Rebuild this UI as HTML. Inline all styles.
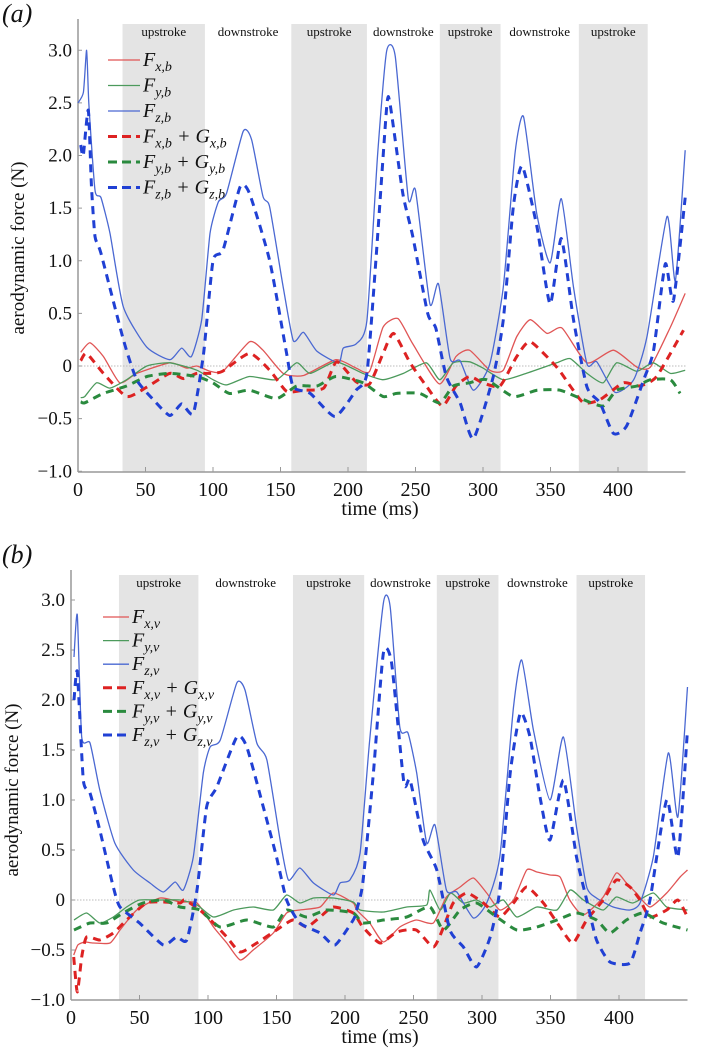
<!DOCTYPE html>
<html><head><meta charset="utf-8">
<style>
html,body{margin:0;padding:0;background:#fff;}
svg{display:block;font-family:"Liberation Serif",serif;}
</style></head>
<body>
<svg id="chart" width="706" height="1052" viewBox="0 0 706 1052" xmlns="http://www.w3.org/2000/svg"></svg>
<script>
// ---------- Panel (a) data (body frame) ----------
const bandsA = [[33,94],[158,214],[268,313],[371,422]];
const fzbT = [0,4,6.4,8,12.6,17,23.7,33.6,50.9,68,76.8,84,91.6,97.8,104,110,122.4,128.6,137,142,152,159.5,167,177,193,196.5,206,214,222,228.6,235,244.7,250,260.7,267,275.6,283,292.9,305,315,323.7,330,339.8,349.7,358,367,377,384.3,397.8,411.6,421.5,436.3,442.5,449.8];
const fzbV = [2.5,2.6,3.0,2.5,1.67,1.6,1.26,0.56,0.18,0.06,0.17,0.09,0.44,1.26,1.56,1.64,2.23,2.15,1.61,1.51,0.75,0.24,0.32,0.14,0.03,0.17,0.21,0.43,2.02,2.99,2.94,1.59,1.67,0.59,0.78,0.07,0.05,-0.23,0.02,0.75,2.02,2.37,1.45,0.98,1.59,0.75,0.02,0.04,-0.25,-0.13,0.28,1.42,0.81,2.05];
const fzgbT = [2,3.9,7.6,10,12.6,17,33.6,43.5,55.8,68,76.8,85.4,93,100,107.4,120,127,142,154.5,159.5,172,190.4,206,214,221,228.6,231,240.6,248,259,265,272.8,283,292.9,307.6,315,322.5,329,340,349.7,358,367,377,386.6,396.6,406.4,419,426.4,435,441,449.8];
const fzgbV = [2.1,2.0,2.43,1.7,1.23,1.07,0.25,-0.13,-0.32,-0.47,-0.36,-0.45,0.12,1.0,1.1,1.7,1.64,1.0,0.12,-0.2,-0.26,-0.48,-0.23,-0.07,1.07,2.45,2.5,1.64,1.23,0.5,0.36,-0.1,-0.35,-0.69,-0.1,0.44,1.52,1.9,1.32,0.59,1.21,0.44,-0.2,-0.35,-0.64,-0.57,-0.13,0.15,0.97,0.62,1.6];
const fxbT = [2,8.9,18.8,31,43.5,68,80.5,88,97.8,107.4,127,137,152,167,191,206,216,226,237,248,267.6,280,290,305,315,325,335,347.5,358.6,377,396.6,414,424,438.8,449.8];
const fxbV = [0.13,0.22,0.09,-0.16,-0.07,0.03,-0.02,0,-0.05,-0.05,0.23,0.15,-0.07,-0.09,0.06,-0.02,-0.05,0.37,0.45,0.21,-0.17,0.09,0.15,-0.04,-0.04,0.28,0.44,0.31,0.36,0.03,0.15,-0.01,-0.01,0.37,0.69];
const fxgbT = [2,6.4,18.8,36,51,68,78,88,97.8,107,127,142,154.5,167,182,191.6,206,216,226,233.8,246,258,270,280,290,300,312.6,325,335,354.6,364.6,374.5,386.6,404,416,428.6,448.5];
const fxgbV = [0.05,0.12,-0.07,-0.29,-0.2,-0.07,-0.12,-0.07,-0.07,-0.05,0.12,-0.04,-0.24,-0.23,-0.21,0.04,-0.15,-0.17,0.12,0.31,0.03,-0.19,-0.38,-0.19,-0.1,-0.16,-0.19,0.09,0.23,-0.01,-0.19,-0.35,-0.32,-0.16,-0.19,-0.1,0.34];
const fybT = [2,5,13.8,23.7,36,51,68,88,100,110,127,147,162,172,191,211,226,241,258,268,278,290,300,315,332,354.6,364.6,377,389,399,414,426,438.8,449.8];
const fybV = [-0.3,-0.29,-0.16,-0.21,-0.13,0,0.03,-0.04,-0.13,-0.18,-0.1,-0.13,0.03,-0.07,0.04,-0.07,-0.13,-0.07,0.03,-0.13,0.03,0.04,-0.02,-0.13,-0.07,0.03,0.07,-0.07,-0.16,0.03,-0.05,0.03,-0.07,-0.04];
const fygbT = [2,5,18.8,36,51,68,88,100,112,127,147,162,177,191,211,226,236,253,268,278,290,302.6,322.5,340,357,374.5,389,399,414,424,438.8,446];
const fygbV = [-0.34,-0.35,-0.26,-0.19,-0.1,-0.07,-0.1,-0.16,-0.26,-0.23,-0.31,-0.19,-0.19,-0.1,-0.16,-0.29,-0.26,-0.26,-0.35,-0.19,-0.16,-0.13,-0.29,-0.23,-0.23,-0.32,-0.38,-0.23,-0.19,-0.13,-0.13,-0.26];

// ---------- Panel (b) data (vertical frame) ----------
const bandsB = [[35,93],[162,214],[267,312],[369,419]];
const fzvT = [2.2,4.6,7.8,13.9,21,32,45.5,57.7,67.4,76,82,89.3,96.6,101.5,109,121,127,135.6,143,152.6,158.7,167,177,191.5,196.4,203.6,211,218,228,233,240,246,252.3,259.6,265.7,274,281.6,293.7,303.4,313,323,329,337.5,349.6,359.4,369,376.4,383.6,395.8,408,415.3,425,436,443,450];
const fzvV = [2.43,2.85,1.63,1.57,1.1,0.57,0.3,0.17,0.08,0.18,0.1,0.43,1.27,1.53,1.6,2.17,2.1,1.57,1.4,0.6,0.2,0.32,0.17,0.05,0.17,0.2,0.47,1.6,2.97,2.93,1.73,1.67,1.27,0.57,0.75,0.1,0.08,-0.18,-0.03,0.43,1.93,2.4,1.7,1.0,1.63,0.73,0.13,0.02,-0.07,-0.1,-0.03,0.43,1.47,0.83,2.13];
const fzgvT = [2.2,4.6,9,13.9,21,30.9,35.8,50,67.4,77,84.5,92,99,106.4,121,128.3,140.4,150,157.4,167,181.8,192.7,206,208.5,213,220.7,228,234,243,247.5,257,267,276.6,286.4,296,306,313,320.6,328,335,342.3,349.6,359.4,369,376.4,383.6,393.4,408,415.3,422.6,434.8,443,450];
const fzgvV = [2.0,2.28,1.2,1.07,0.7,0.13,-0.07,-0.23,-0.45,-0.37,-0.4,0.1,0.93,1.13,1.63,1.53,0.93,0.43,0,-0.23,-0.33,-0.45,-0.2,-0.1,0.17,1.27,2.47,2.37,1.17,1.2,0.6,0.3,-0.3,-0.47,-0.67,-0.37,0.1,1.27,1.87,1.63,1.03,0.6,1.2,0.43,0,-0.4,-0.62,-0.63,-0.33,0,1.0,0.43,1.7];
const fxvT = [2,5,10,16.3,28.5,35.8,48,65,79.6,92,104,113.7,123.5,133,147.7,157.4,167,181.8,191.5,206,208.5,218,228,240,252,264.5,274,284,293.7,303.4,313,323,332.6,340,349.6,357,364,374,388.5,398,405.4,412.6,422.6,434.8,444.6,450];
const fxvV = [-0.55,-0.45,-0.42,-0.43,-0.43,-0.3,-0.1,0.02,-0.02,-0.03,-0.27,-0.43,-0.6,-0.5,-0.33,-0.13,-0.1,-0.07,0.07,-0.03,-0.1,-0.23,-0.42,-0.27,-0.2,-0.23,0.03,0.13,0.22,0.07,-0.1,0,0.3,0.28,0.25,0.23,0,-0.15,0.03,0.27,0.17,0.07,-0.07,0.07,0.23,0.3];
const fxgvT = [2,4.6,7.8,11.4,21,30.9,40.6,55,67.4,79.6,83,94,104,113.7,123.5,135.6,150,162,172,181.8,191.5,206,213,225.6,237.8,252,264.5,272,279,289,301,313,323,332.6,344.8,357,366.4,376.4,388.5,398,408,415.3,422.6,434.8,443,450];
const fxgvV = [-0.57,-0.92,-0.57,-0.37,-0.4,-0.33,-0.2,-0.03,-0.02,-0.03,0,-0.1,-0.23,-0.37,-0.52,-0.43,-0.3,-0.2,-0.27,-0.17,-0.07,-0.13,-0.27,-0.43,-0.32,-0.3,-0.47,-0.27,-0.03,0.07,-0.03,-0.17,-0.03,0.13,-0.03,-0.27,-0.43,-0.2,0,0.2,0.13,0,-0.17,-0.1,0,-0.17];
const fyvT = [2.2,11.4,21,30.9,40.6,50,65,79.6,92,104,118.7,133,147.7,157.4,167,177,191.5,206,211,228,245,259.6,262,269.5,277,286.4,296,306,315.6,325.4,340,354.7,364.4,374,388.5,398,410,425,434.8,450];
const fyvV = [-0.2,-0.13,-0.23,-0.17,-0.07,0,0,0,-0.05,-0.17,-0.1,-0.07,-0.1,0.05,-0.03,0.02,0.02,-0.02,-0.1,-0.12,-0.07,-0.05,0.1,-0.1,0.07,-0.03,0,-0.07,0,-0.17,-0.07,-0.1,0.1,0,-0.1,0.03,-0.03,0.07,-0.07,-0.1];
const fygvT = [2.2,13.9,26,38,52.5,67.4,79.6,94,108.8,128.3,147.7,157.4,172,186.6,206,213,228,245,262,271.8,284,296,310.7,325.4,340,354.7,369,383.6,393.4,405.4,417.6,432.2,450];
const fygvV = [-0.3,-0.23,-0.23,-0.13,-0.03,0,-0.07,-0.1,-0.27,-0.2,-0.27,-0.1,-0.17,-0.1,-0.13,-0.23,-0.2,-0.17,-0.07,-0.3,-0.1,-0.03,-0.17,-0.3,-0.27,-0.2,-0.13,-0.2,-0.33,-0.2,-0.13,-0.23,-0.3];

const yTicks = [3.0,2.5,2.0,1.5,1.0,0.5,0,-0.5,-1.0];
const yTickLabels = ["3.0","2.5","2.0","1.5","1.0","0.5","0","\u22120.5","\u22121.0"];
const xTicks = [0,50,100,150,200,250,300,350,400];

const NS = "http://www.w3.org/2000/svg";
const svg = document.getElementById('chart');
function mk(tag, attrs, parent){
  const e = document.createElementNS(NS, tag);
  for (const k in attrs) e.setAttribute(k, attrs[k]);
  (parent||svg).appendChild(e);
  return e;
}
function smoothPath(pts){
  if (!pts.length) return "";
  let d = "M"+pts[0][0].toFixed(1)+","+pts[0][1].toFixed(1);
  for (let i=0;i<pts.length-1;i++){
    const p0=pts[Math.max(0,i-1)], p1=pts[i], p2=pts[i+1], p3=pts[Math.min(pts.length-1,i+2)];
    const t=0.1;
    const c1=[p1[0]+(p2[0]-p0[0])*t, p1[1]+(p2[1]-p0[1])*t];
    const c2=[p2[0]-(p3[0]-p1[0])*t, p2[1]-(p3[1]-p1[1])*t];
    d+=" C"+c1[0].toFixed(1)+","+c1[1].toFixed(1)+" "+c2[0].toFixed(1)+","+c2[1].toFixed(1)+" "+p2[0].toFixed(1)+","+p2[1].toFixed(1);
  }
  return d;
}

function drawPanel(cfg){
  const g = mk('g', {});
  
  
  const X = t => cfg.x0 + t*cfg.kx;
  const Y = v => cfg.y0 - v*cfg.ky;
  const top = cfg.top, bot = cfg.bottom, xEnd = X(450);

  cfg.bands.forEach((b,i)=>{
    const r = mk('rect',{x:X(b[0]),y:top,width:X(b[1])-X(b[0]),height:bot-top,fill:'#e4e4e4'},g);
    
    
    const tl = mk('text',{x:(X(b[0])+X(b[1]))/2,y:top+12,'font-size':'13','text-anchor':'middle',fill:'#111'},g);
    tl.textContent='upstroke';
    
    
  });
  const downs = [];
  for (let i=0;i<cfg.bands.length-1;i++) downs.push([cfg.bands[i][1],cfg.bands[i+1][0]]);
  downs.forEach(dw=>{
    const tl = mk('text',{x:(X(dw[0])+X(dw[1]))/2,y:top+12,'font-size':'13','text-anchor':'middle',fill:'#111'},g);
    tl.textContent='downstroke';
    
    
  });

  const zl = mk('line',{x1:cfg.x0,x2:xEnd,y1:Y(0),y2:Y(0),stroke:'#bbb','stroke-width':1,'stroke-dasharray':'1.5,1.5'},g);
  
  

  const ya = mk('line',{x1:cfg.x0,x2:cfg.x0,y1:top-5,y2:bot,stroke:'#999','stroke-width':1.5},g);
  
  
  const xa = mk('line',{x1:cfg.x0,x2:xEnd,y1:bot,y2:bot,stroke:'#999','stroke-width':1.5},g);
  
  

  yTicks.forEach((v,i)=>{
    const tk = mk('line',{x1:cfg.x0,x2:cfg.x0+4,y1:Y(v),y2:Y(v),stroke:'#999','stroke-width':1},g);
    
    
    const tl = mk('text',{x:cfg.x0-6,y:Y(v)+6,'font-size':'19','text-anchor':'end',fill:'#111'},g);
    tl.textContent=yTickLabels[i];
    
    
  });
  xTicks.forEach(t=>{
    const tk = mk('line',{x1:X(t),x2:X(t),y1:bot,y2:bot-5,stroke:'#999','stroke-width':1},g);
    
    
    const tl = mk('text',{x:X(t),y:bot+24,'font-size':'20','text-anchor':'middle',fill:'#111'},g);
    tl.textContent=String(t);
    
    
  });
  const xt = mk('text',{x:380,y:bot+43,'font-size':'20','text-anchor':'middle',fill:'#111'},g);
  xt.textContent='time (ms)';
  
  
  const yt = mk('text',{x:0,y:0,'font-size':'19','text-anchor':'middle',fill:'#111',transform:'translate('+cfg.ytX+','+cfg.ytY+') rotate(-90)'},g);
  yt.textContent='aerodynamic force (N)';
  
  
  const pl = mk('text',{x:2,y:cfg.labelY,'font-size':'26','font-style':'italic',fill:'#111'},g);
  pl.textContent=cfg.label;
  
  

  cfg.series.forEach(s=>{
    const pts = s.t.map((t,i)=>[X(t),Y(s.v[i])]);
    const p = mk('path',{d:smoothPath(pts),fill:'none',stroke:s.color,'stroke-width':s.dash?3:1.3,'stroke-dasharray':s.dash?'8,6':'none','stroke-linejoin':'round'},g);
    
    
  });

  cfg.series.forEach((s,i)=>{
    const ly = cfg.legY + i*cfg.legDy;
    const ln = mk('line',{x1:cfg.legX,x2:cfg.legX+cfg.legW,y1:ly,y2:ly,stroke:s.color,'stroke-width':s.dash?3:1.3,'stroke-dasharray':s.dash?'9,5':'none'},g);
    
    
    const tx = mk('text',{x:cfg.legX+cfg.legW+3,y:ly+6,'font-size':'20','font-style':'italic',fill:'#111'},g);
    
    
    s.legend.forEach(part=>{
      const ts = mk('tspan',{},tx);
      if (part[1]==='sub'){ ts.setAttribute('font-size','14'); ts.setAttribute('dy','5'); }
      else if (part[1]==='up'){ ts.setAttribute('dy','-5'); }
      ts.textContent = part[0];
    });
  });
}

function leg(c, plus){
  const f = [['F',''],[c+','+plus.sys,'sub']];
  if (plus.g) f.push([' + ','up'],['G',''],[c+','+plus.sys,'sub']);
  return f;
}
const RED='#e05555', RED2='#dd2222', GRN='#4c9a5c', GRN2='#2a8a3e', BLU='#4a68d2', BLU2='#2040d4';

drawPanel({name:'panel-a', label:'(a)', labelY:22, x0:78, kx:1.35, y0:366, ky:105.25, top:24, bottom:472,
  bands:bandsA, ytX:24, ytY:248, legX:108, legW:32, legY:60, legDy:25.5,
  series:[
    {id:'series-fx-b',t:fxbT,v:fxbV,color:RED,dash:false,legend:leg('x',{sys:'b'})},
    {id:'series-fy-b',t:fybT,v:fybV,color:GRN,dash:false,legend:leg('y',{sys:'b'})},
    {id:'series-fz-b',t:fzbT,v:fzbV,color:BLU,dash:false,legend:leg('z',{sys:'b'})},
    {id:'series-fx-plus-gx-b',t:fxgbT,v:fxgbV,color:RED2,dash:true,legend:leg('x',{sys:'b',g:1})},
    {id:'series-fy-plus-gy-b',t:fygbT,v:fygbV,color:GRN2,dash:true,legend:leg('y',{sys:'b',g:1})},
    {id:'series-fz-plus-gz-b',t:fzgbT,v:fzgbV,color:BLU2,dash:true,legend:leg('z',{sys:'b',g:1})}
  ]});
drawPanel({name:'panel-b', label:'(b)', labelY:563, x0:71, kx:1.37, y0:900, ky:100, top:575, bottom:1000,
  bands:bandsB, ytX:18, ytY:790, legX:103, legW:26, legY:617, legDy:23.6,
  series:[
    {id:'series-fx-v',t:fxvT,v:fxvV,color:RED,dash:false,legend:leg('x',{sys:'v'})},
    {id:'series-fy-v',t:fyvT,v:fyvV,color:GRN,dash:false,legend:leg('y',{sys:'v'})},
    {id:'series-fz-v',t:fzvT,v:fzvV,color:BLU,dash:false,legend:leg('z',{sys:'v'})},
    {id:'series-fx-plus-gx-v',t:fxgvT,v:fxgvV,color:RED2,dash:true,legend:leg('x',{sys:'v',g:1})},
    {id:'series-fy-plus-gy-v',t:fygvT,v:fygvV,color:GRN2,dash:true,legend:leg('y',{sys:'v',g:1})},
    {id:'series-fz-plus-gz-v',t:fzgvT,v:fzgvV,color:BLU2,dash:true,legend:leg('z',{sys:'v',g:1})}
  ]});
</script>
</body></html>
